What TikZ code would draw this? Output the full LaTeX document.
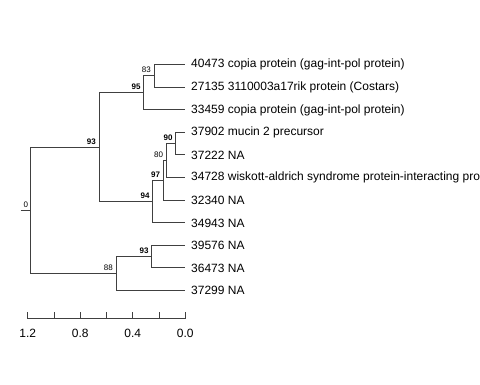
\documentclass[tikz,border=0pt]{standalone}
\usepackage{fontspec}
\setmainfont{Liberation Sans}
\begin{document}
\begin{tikzpicture}[x=1pt,y=-1pt,
  branch/.style={draw=black!75,line width=0.8pt},
  leaflab/.style={anchor=west,inner sep=0pt,font=\fontsize{12}{14}\selectfont},
  boot/.style={anchor=base east,inner sep=0pt,font=\fontsize{8}{9}\selectfont},
  bootb/.style={boot,font=\fontsize{8}{9}\selectfont\bfseries},
  ticklab/.style={anchor=center,inner sep=0pt,font=\fontsize{12}{14}\selectfont}]
\useasboundingbox (0,0) rectangle (480,384);
% leaves
\coordinate (l1) at (185.3,64.3);
\coordinate (l2) at (185.3,86.9);
\coordinate (l3) at (185.3,109.5);
\coordinate (l4) at (185.3,132.1);
\coordinate (l5) at (185.3,154.7);
\coordinate (l6) at (185.3,177.3);
\coordinate (l7) at (185.3,199.9);
\coordinate (l8) at (185.3,222.5);
\coordinate (l9) at (185.3,245.1);
\coordinate (l10) at (185.3,267.7);
\coordinate (l11) at (185.3,290.3);
% internal nodes
\coordinate (n83) at (154,75.6);
\coordinate (n95) at (143.7,92.55);
\coordinate (n90) at (175.7,143.4);
\coordinate (n80) at (166.3,160.35);
\coordinate (n97) at (163.3,180.1);
\coordinate (n94) at (152.7,201.3);
\coordinate (n93a) at (99,146.9);
\coordinate (n93b) at (151.7,256.4);
\coordinate (n88) at (116,273.35);
\coordinate (root) at (30.3,210.1);
\coordinate (stub) at (20.7,210.1);
% branches
\draw[branch] (stub) -- (root);
\draw[branch] (root) |- (n93a);
\draw[branch] (root) |- (n88);
\draw[branch] (n93a) |- (n95);
\draw[branch] (n93a) |- (n94);
\draw[branch] (n95) |- (n83);
\draw[branch] (n95) |- (l3);
\draw[branch] (n83) |- (l1);
\draw[branch] (n83) |- (l2);
\draw[branch] (n94) |- (n97);
\draw[branch] (n94) |- (l8);
\draw[branch] (n97) |- (n80);
\draw[branch] (n97) |- (l7);
\draw[branch] (n80) |- (n90);
\draw[branch] (n80) |- (l6);
\draw[branch] (n90) |- (l4);
\draw[branch] (n90) |- (l5);
\draw[branch] (n88) |- (n93b);
\draw[branch] (n88) |- (l11);
\draw[branch] (n93b) |- (l9);
\draw[branch] (n93b) |- (l10);
% leaf labels
\node[leaflab] (t1) at (191,64.8) {40473 copia protein (gag-int-pol protein)};
\node[leaflab] (t2) at (191,87.4) {27135 3110003a17rik protein (Costars)};
\node[leaflab] (t3) at (191,110) {33459 copia protein (gag-int-pol protein)};
\node[leaflab] (t4) at (191,132.6) {37902 mucin 2 precursor};
\node[leaflab] (t5) at (191,155.2) {37222 NA};
\node[leaflab] (t6) at (191,177.8) {34728 wiskott-aldrich syndrome protein-interacting pro};
\node[leaflab] (t7) at (191,200.4) {32340 NA};
\node[leaflab] (t8) at (191,223) {34943 NA};
\node[leaflab] (t9) at (191,245.6) {39576 NA};
\node[leaflab] (t10) at (191,268.2) {36473 NA};
\node[leaflab] (t11) at (191,290.8) {37299 NA};
% bootstrap labels
\node[boot] (b0) at (28.3,207.1) {0};
\node[bootb] (b93a) at (96,144) {93};
\node[bootb] (b95) at (140.7,89.6) {95};
\node[boot] (b83) at (151,72.6) {83};
\node[bootb] (b90) at (172.7,140.4) {90};
\node[boot] (b80) at (163.3,157.4) {80};
\node[bootb] (b97) at (160.3,177.1) {97};
\node[bootb] (b94) at (149.7,198.3) {94};
\node[bootb] (b93b) at (148.7,253.4) {93};
\node[boot] (b88) at (113,270.4) {88};
% scale axis
\coordinate (a0) at (27.7,318.7);
\coordinate (a1) at (185.3,318.7);
\draw[branch] (a0) -- (a1);
\foreach \k in {0,...,6} {
  \draw[branch] ({27.7+26.267*\k},318.7) -- ({27.7+26.267*\k},311.7);
}
\node[ticklab] (s12) at (27.7,333.3) {1.2};
\node[ticklab] (s08) at (80.2,333.3) {0.8};
\node[ticklab] (s04) at (132.8,333.3) {0.4};
\node[ticklab] (s00) at (185.3,333.3) {0.0};
\end{tikzpicture}
\end{document}
